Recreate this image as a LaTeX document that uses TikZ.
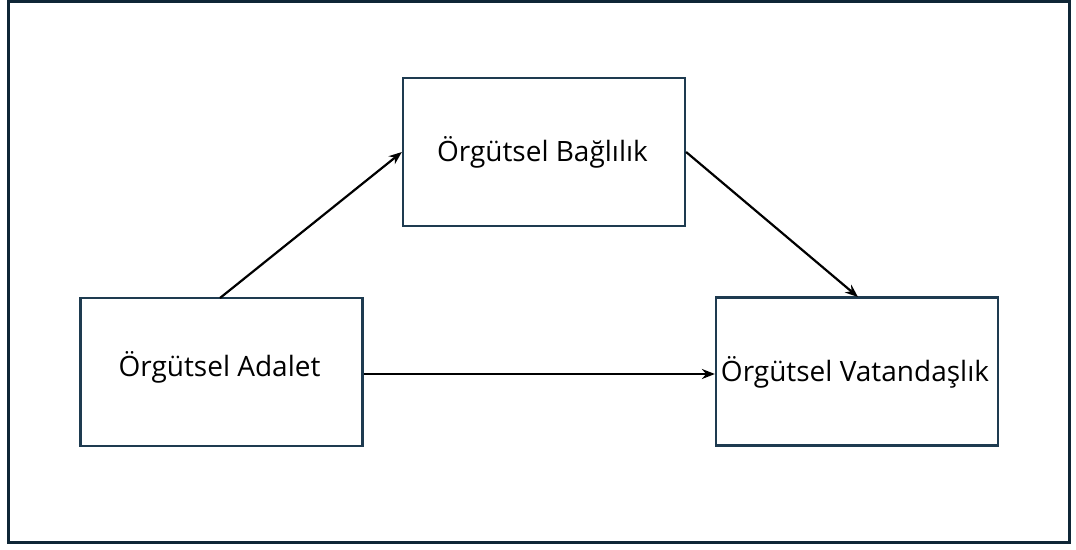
\documentclass[tikz,border=0pt]{standalone}
\usepackage{fontspec}
\setmainfont{Open Sans}
\usetikzlibrary{arrows.meta}
\definecolor{frame}{HTML}{0F2636}
\definecolor{boxc}{HTML}{1E3B50}
\begin{document}
\begin{tikzpicture}[x=1pt,y=-1pt,
  bx/.style={draw=boxc,line width=2.2pt,fill=white,minimum width=282pt,minimum height=148pt,inner sep=0pt},
  lbl/.style={anchor=base,inner sep=0pt,font=\fontsize{28}{32}\selectfont},
  arr/.style={line width=2.2pt,-{Stealth[length=13pt,width=10pt]}}]
\useasboundingbox (0,0) rectangle (1076,549);
\draw[frame,line width=3pt] (8,1) rectangle (1069,542);
\node[bx] (b) at (544,152) {};
\node[bx] (a) at (221.5,372) {};
\node[bx] (v) at (857,371.5) {};
\node[lbl] (tb) at (542.5,161) {Örgütsel Bağlılık};
\node[lbl] (ta) at (219.5,376) {Örgütsel Adalet};
\node[lbl] (tv) at (855,381) {Örgütsel Vatandaşlık};
\coordinate (a1) at (220,298);
\draw[arr] (a1) -- (b.west);
\coordinate (v1) at (858,297);
\draw[arr] (b.east) -- (v1);
\draw[arr] (a.east |- 0,374) -- (v.west |- 0,374);
\end{tikzpicture}
\end{document}
